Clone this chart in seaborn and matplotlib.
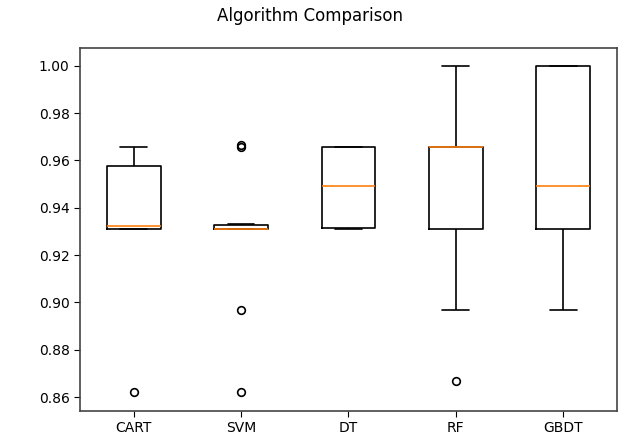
import pandas as pd
import matplotlib
matplotlib.use("Agg")
import matplotlib.pyplot as plt
import seaborn as sns

# cross-validation accuracies per algorithm
names = ['CART', 'SVM', 'DT', 'RF', 'GBDT']
cart = [0.862, 0.931, 0.931, 0.931, 0.931, 0.9333, 0.9333, 0.9655, 0.9655, 0.9655]
svm = [0.862, 0.897, 0.931, 0.931, 0.931, 0.931, 0.931, 0.9333, 0.9655, 0.9667]
dt = [0.931, 0.931, 0.931, 0.9333, 0.9333, 0.9655, 0.9655, 0.9655, 0.9655, 0.9655]
rf = [0.8667, 0.897, 0.931, 0.931, 0.9655, 0.9655, 0.9655, 0.9655, 0.9667, 1.0]
gbdt = [0.897, 0.931, 0.931, 0.931, 0.9333, 0.9655, 1.0, 1.0, 1.0, 1.0]

results = [cart, svm, dt, rf, gbdt]
df = pd.DataFrame({
    'Algorithm': [n for n, r in zip(names, results) for _ in r],
    'Accuracy': [v for r in results for v in r],
})

sns.set_style("ticks")
plt.rcParams['font.family'] = ['DejaVu Sans']
plt.rcParams['text.color'] = 'black'

fig = plt.figure(figsize=(6.2, 4.37), dpi=100)
fig.suptitle('Algorithm Comparison', fontsize=12, y=0.985)
ax = fig.add_axes([0.129, 0.06, 0.866, 0.83])

sns.boxplot(data=df, x='Algorithm', y='Accuracy', order=names, ax=ax,
            width=0.5, fill=False, color='black', linewidth=1.2,
            whis=1.5,
            medianprops=dict(color='#ff7f0e', linewidth=1.2),
            flierprops=dict(marker='o', markerfacecolor='none',
                            markeredgecolor='black', markersize=5.5,
                            markeredgewidth=1.2))

ax.set_xlabel('')
ax.set_ylabel('')
ax.set_ylim(0.8542, 1.0075)
ax.set_xlim(-0.5, 4.5)
ax.set_yticks([0.86, 0.88, 0.90, 0.92, 0.94, 0.96, 0.98, 1.00])
ax.set_yticklabels(['0.86', '0.88', '0.90', '0.92', '0.94', '0.96', '0.98', '1.00'])
ax.tick_params(labelsize=10, colors='black', length=4)
for s in ax.spines.values():
    s.set_visible(True)
    s.set_color('#444444')
    s.set_linewidth(1.2)

fig.savefig('out.png', dpi=100)
